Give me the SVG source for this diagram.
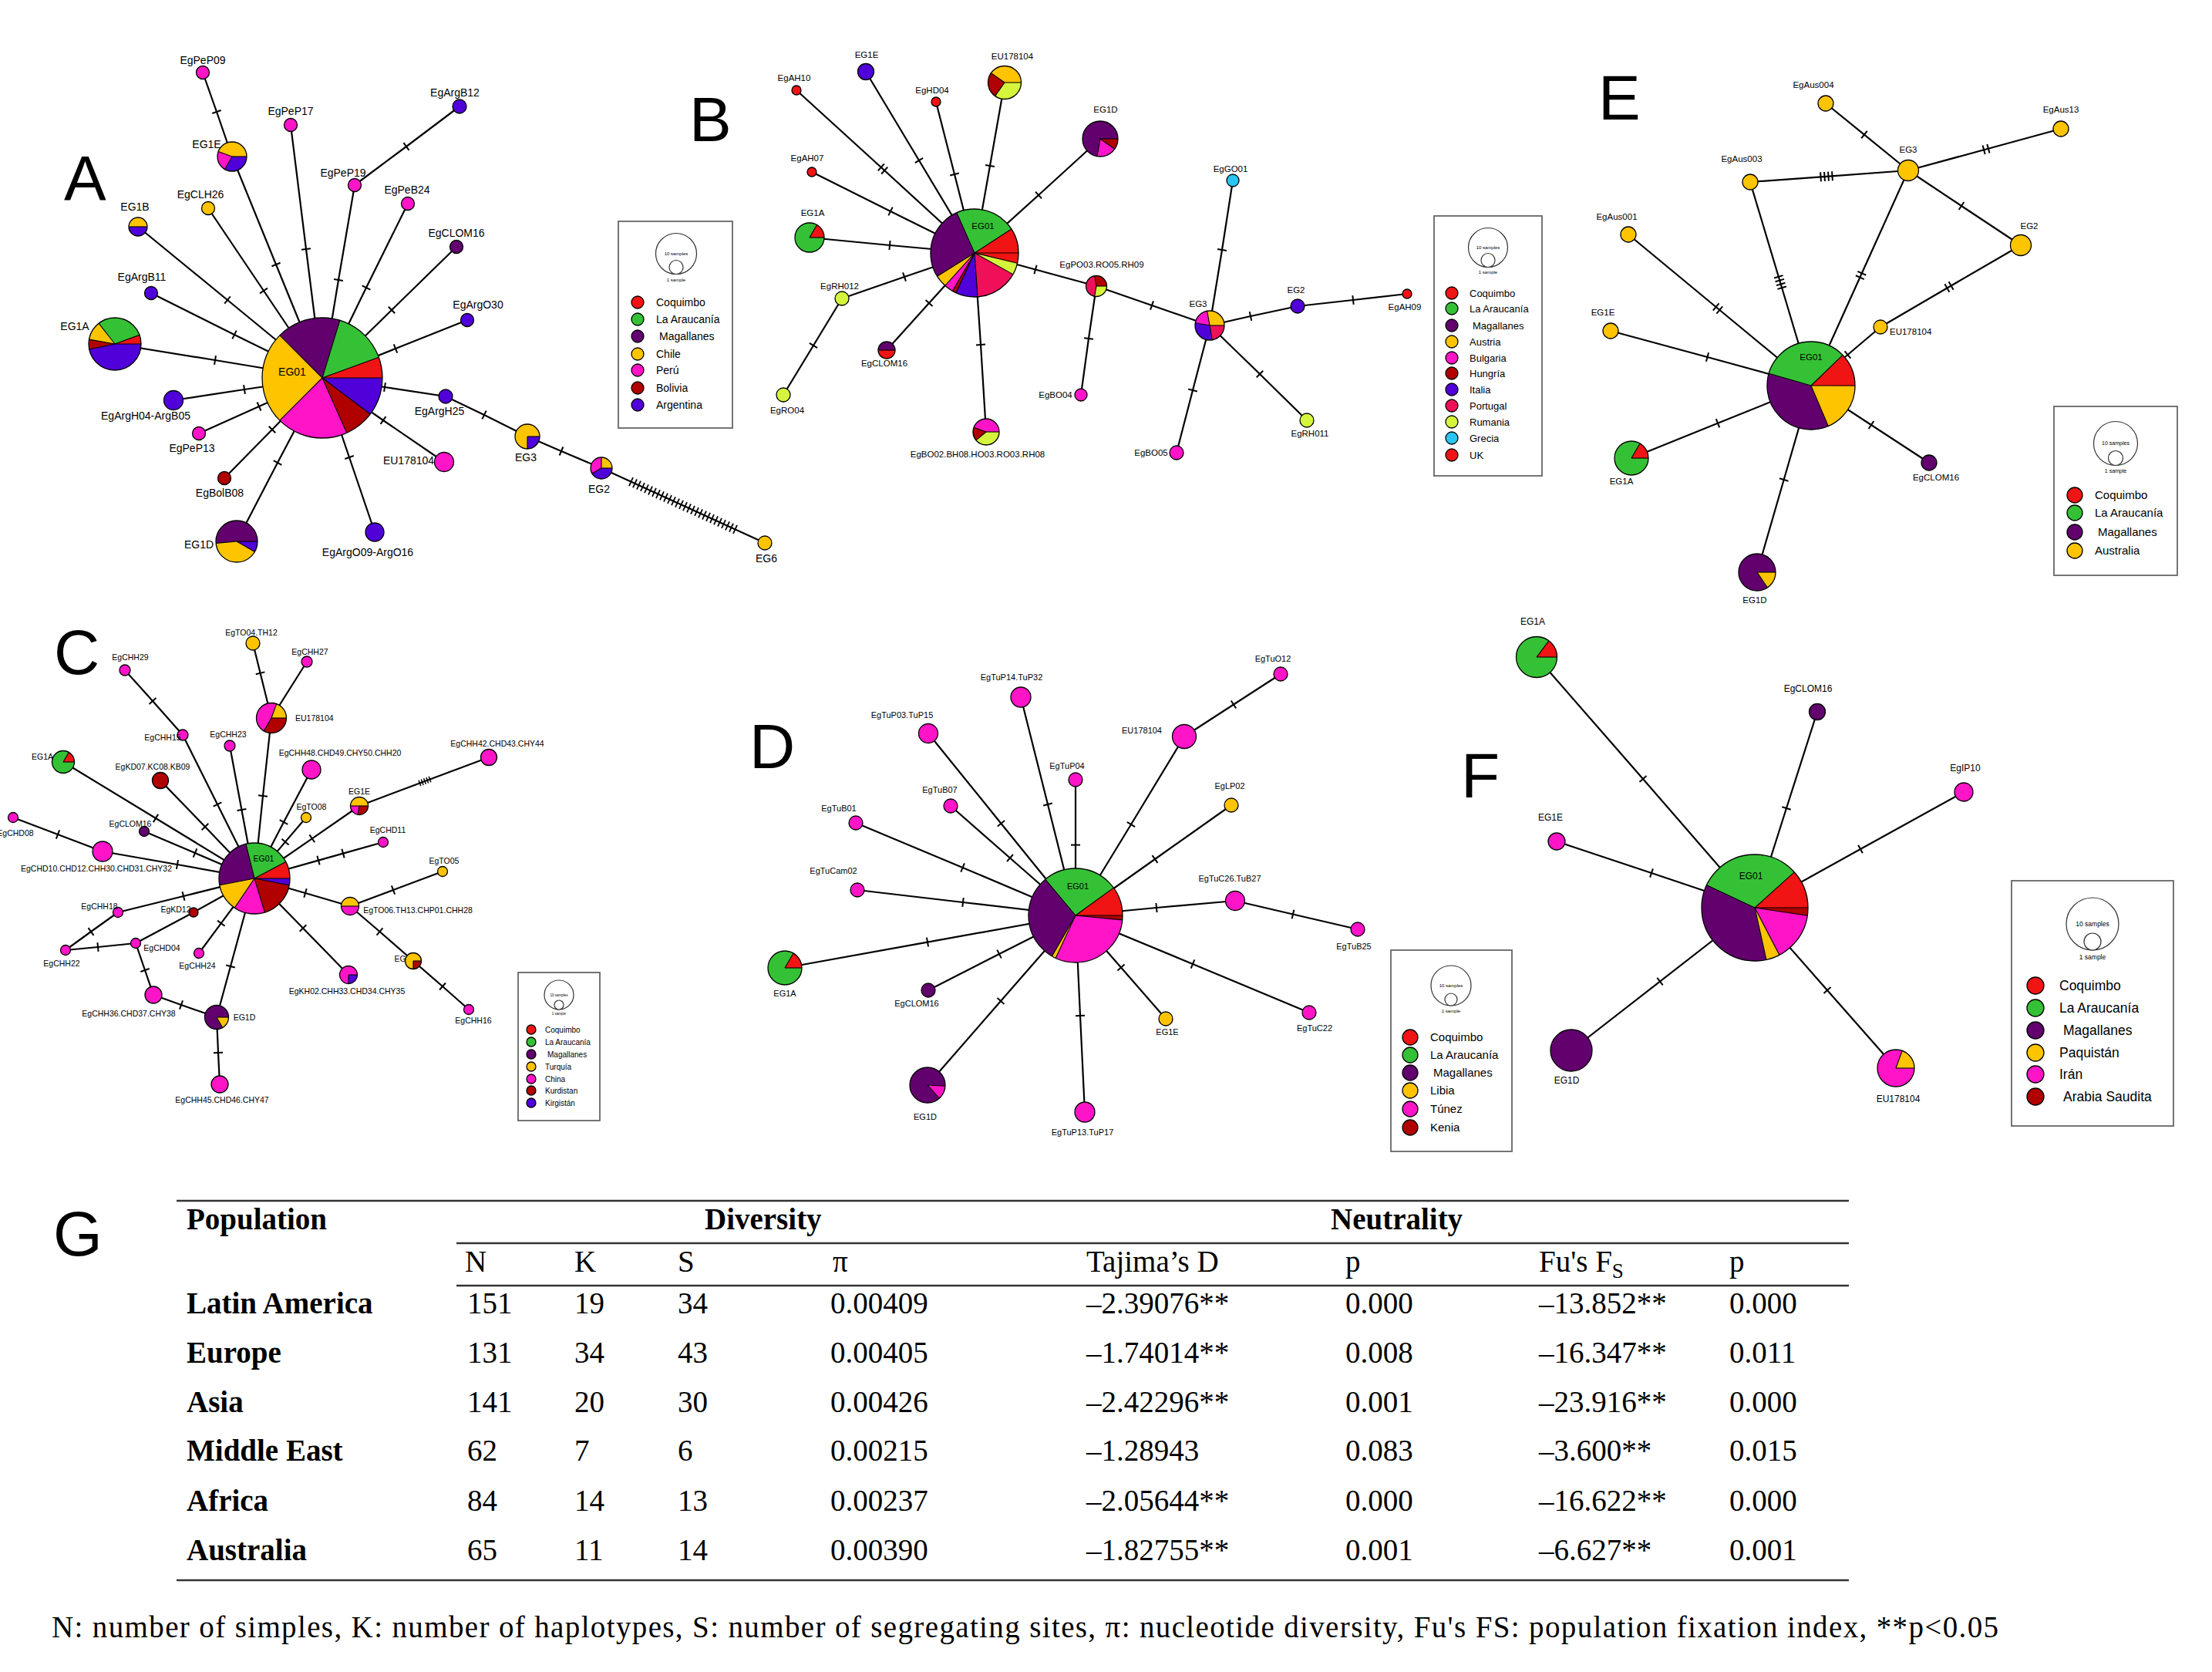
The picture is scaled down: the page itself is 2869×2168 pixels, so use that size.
<svg xmlns="http://www.w3.org/2000/svg" width="2869" height="2168" viewBox="0 0 2869 2168">
<defs>
<style>
.e{fill:none;stroke:#000;stroke-width:2.2}
.m1{marker-mid:url(#t1)}.m2{marker-mid:url(#t2)}.m4{marker-mid:url(#t4)}.m5{marker-mid:url(#t5)}.mA{marker-mid:url(#tA)}
.o{fill:none;stroke:#000;stroke-width:1.3}
.sp{stroke:#000;stroke-width:1.1;fill:none}
.s{fill:none}
.n{stroke:#000;stroke-width:1.3}
.R{stroke:#f01414}.G{stroke:#35c135}.M{stroke:#62006e}.Y{stroke:#ffc400}.P{stroke:#ff14c8}.D{stroke:#b00000}.B{stroke:#5000d8}.C{stroke:#f0105a}.L{stroke:#d4f53c}.K{stroke:#28c6f0}
.fR{fill:#f01414}.fG{fill:#35c135}.fM{fill:#62006e}.fY{fill:#ffc400}.fP{fill:#ff14c8}.fD{fill:#b00000}.fB{fill:#5000d8}.fC{fill:#f0105a}.fL{fill:#d4f53c}.fK{fill:#28c6f0}
text{font-family:"Liberation Sans",Arial,sans-serif;fill:#000}
.ta{font-size:14px;text-anchor:middle}
.tb{font-size:11.5px;text-anchor:middle}
.tc{font-size:10.5px;text-anchor:middle}
.td{font-size:11px;text-anchor:middle}
.te{font-size:11.5px;text-anchor:middle}
.tf{font-size:12px;text-anchor:middle}
.st{text-anchor:start}
.big{font-size:82px}
.lg{fill:#fff;stroke:#666;stroke-width:1.8}
.lc{fill:#fff;stroke:#333;stroke-width:1.2}
text.tab,.tab text{font-family:"Liberation Serif","Times New Roman",serif;font-size:39px}
text.bd,.bd text{font-weight:bold}
.hl{stroke:#333;stroke-width:2.6}
</style>
<marker id="t1" markerUnits="userSpaceOnUse" markerWidth="30" markerHeight="30" viewBox="-15 -15 30 30" orient="auto" overflow="visible"><path d="M0-6V6" stroke="#000" stroke-width="2"/></marker>
<marker id="t2" markerUnits="userSpaceOnUse" markerWidth="30" markerHeight="30" viewBox="-15 -15 30 30" orient="auto" overflow="visible"><path d="M-3-6V6M3-6V6" stroke="#000" stroke-width="2"/></marker>
<marker id="t4" markerUnits="userSpaceOnUse" markerWidth="30" markerHeight="30" viewBox="-15 -15 30 30" orient="auto" overflow="visible"><path d="M-7.5-6V6M-2.5-6V6M2.5-6V6M7.5-6V6" stroke="#000" stroke-width="2"/></marker>
<marker id="t5" markerUnits="userSpaceOnUse" markerWidth="30" markerHeight="30" viewBox="-15 -15 30 30" orient="auto" overflow="visible"><path d="M-7-4V4M-3.5-4V4M0-4V4M3.5-4V4M7-4V4" stroke="#000" stroke-width="1.5"/></marker>
<marker id="tA" markerUnits="userSpaceOnUse" markerWidth="160" markerHeight="20" viewBox="-80 -10 160 20" orient="auto" overflow="visible"><path d="M-74.25-6V6M-68.75-6V6M-63.25-6V6M-57.75-6V6M-52.25-6V6M-46.75-6V6M-41.25-6V6M-35.75-6V6M-30.25-6V6M-24.75-6V6M-19.25-6V6M-13.75-6V6M-8.25-6V6M-2.75-6V6M2.75-6V6M8.25-6V6M13.75-6V6M19.25-6V6M24.75-6V6M30.25-6V6M35.75-6V6M41.25-6V6M46.75-6V6M52.25-6V6M57.75-6V6M63.25-6V6M68.75-6V6M74.25-6V6" stroke="#000" stroke-width="1.8"/></marker>
</defs>
<rect width="2869" height="2168" fill="#fff"/>

<g id="connectors">
<!-- A -->
<path class="e m1" d="M418 490L358 343L301 203"/>
<path class="e m1" d="M301 203L281 145L263 94"/>
<path class="e m1" d="M418 490L397 323L377 162"/>
<path class="e m1" d="M418 490L439 363L460 240"/>
<path class="e m1" d="M460 240L527 190L596 138"/>
<path class="e m1" d="M418 490L475 373L529 264"/>
<path class="e m1" d="M418 490L342 377L270 270"/>
<path class="e m1" d="M418 490L295 389L179 294"/>
<path class="e m1" d="M418 490L508 402L592 320"/>
<path class="e m1" d="M418 490L304 434L196 380"/>
<path class="e m1" d="M418 490L513 452L606 415"/>
<path class="e m1" d="M418 490L279 467L149 446"/>
<path class="e m1" d="M418 490L317 505L225 519"/>
<path class="e m1" d="M418 490L336 527L258 562"/>
<path class="e m1" d="M418 490L353 557L291 620"/>
<path class="e m1" d="M418 490L360 600L307 702"/>
<path class="e m1" d="M418 490L453 593L486 690"/>
<path class="e m1" d="M418 490L497 545L576 599"/>
<path class="e m1" d="M418 490L499 502L578 514"/>
<path class="e m1" d="M578 514L628 538L684 566"/>
<path class="e m1" d="M684 566L728 585L780 607"/>
<path class="e mA" d="M780 607L886 655.5L992 704"/>
<!-- B -->
<path class="e m2" d="M1264 328L1145 219L1033 117"/>
<path class="e m1" d="M1264 328L1192 208L1123 93"/>
<path class="e m1" d="M1264 328L1238 226L1214 132"/>
<path class="e m1" d="M1264 328L1284 215L1303 107"/>
<path class="e m1" d="M1264 328L1347 253L1427 180"/>
<path class="e m1" d="M1264 328L1155 274L1053 223"/>
<path class="e m1" d="M1264 328L1154 318L1050 308"/>
<path class="e m1" d="M1264 328L1173 359L1092 387"/>
<path class="e m1" d="M1092 387L1055 448L1016 512"/>
<path class="e m1" d="M1264 328L1205 393L1150 454"/>
<path class="e m1" d="M1264 328L1272 447L1279 560"/>
<path class="e m1" d="M1264 328L1343 349.5L1422 371"/>
<path class="e m1" d="M1422 371L1412 439L1402 512"/>
<path class="e m1" d="M1422 371L1494 396L1569 422"/>
<path class="e m1" d="M1569 422L1585 324L1599 234"/>
<path class="e m1" d="M1569 422L1622 410L1683 397"/>
<path class="e m1" d="M1683 397L1755 389L1825 381"/>
<path class="e m1" d="M1569 422L1634 485L1695 545"/>
<path class="e m1" d="M1569 422L1547 506L1526 587"/>
<!-- C -->
<path class="e m1" d="M328 834L337.6 872.8L352 931"/>
<path class="e" d="M398 858L352 931"/>
<path class="e m1" d="M330 1139L341 1032L352 931"/>
<path class="e m1" d="M162 869L198 909L237 953"/>
<path class="e m1" d="M237 953L282 1043L330 1139"/>
<path class="e m1" d="M330 1139L313.4 1050L298 967"/>
<path class="e m1" d="M330 1139L202 1061L82 988"/>
<path class="e m1" d="M330 1139L266 1072L208 1012"/>
<path class="e m1" d="M330 1139L368 1066L404 998"/>
<path class="e m1" d="M330 1139L404.8 1087.3L466 1045"/>
<path class="e m1" d="M330 1139L370 1091.6L397 1060"/>
<path class="e m5" d="M466 1045L551 1013L634 982"/>
<path class="e m1" d="M330 1139L253 1106L187 1078"/>
<path class="e m1" d="M17 1060L75 1082L133 1104"/>
<path class="e m1" d="M330 1139L230 1121L133 1104"/>
<path class="e m1" d="M330 1139L413 1115.6L445 1106.6L497 1092"/>
<path class="e m1" d="M330 1139L396 1158L454 1175"/>
<path class="e m1" d="M454 1175L510 1154L574 1130"/>
<path class="e m1" d="M454 1175L492.5 1208L536 1246"/>
<path class="e m1" d="M536 1246L574 1279L608 1309"/>
<path class="e m1" d="M330 1139L238 1162L153 1183"/>
<path class="e" d="M330 1139L251 1183"/>
<path class="e" d="M251 1183L176 1223"/>
<path class="e m1" d="M153 1183L118 1208L85 1232"/>
<path class="e m1" d="M85 1232L127 1228L176 1223"/>
<path class="e m1" d="M176 1223L188 1258L199 1290"/>
<path class="e m1" d="M199 1290L235 1303L281 1319"/>
<path class="e m1" d="M330 1139L286.8 1197.2L258 1236"/>
<path class="e m1" d="M330 1139L299 1253L281 1319"/>
<path class="e m1" d="M281 1319L283 1365L285 1406"/>
<path class="e m1" d="M330 1139L393 1203.5L452 1264"/>
<!-- D -->
<path class="e m1" d="M1536 955L1600 913.5L1661 874"/>
<path class="e m1" d="M1395 1187L1467 1069L1536 955"/>
<path class="e m1" d="M1395 1187L1359 1043L1324 904"/>
<path class="e m1" d="M1395 1187L1298.4 1067.7L1204 951"/>
<path class="e m1" d="M1395 1187L1395 1095.6L1395 1011"/>
<path class="e m1" d="M1395 1187L1310 1112.5L1233 1045"/>
<path class="e m1" d="M1395 1187L1498 1114L1597 1044"/>
<path class="e m1" d="M1395 1187L1248.6 1125L1110 1067"/>
<path class="e m1" d="M1395 1187L1249 1170L1112 1154"/>
<path class="e m1" d="M1395 1187L1500 1177L1602 1168"/>
<path class="e m1" d="M1602 1168L1677 1185.5L1761 1205"/>
<path class="e m1" d="M1395 1187L1203 1221.6L1018 1255"/>
<path class="e m1" d="M1395 1187L1296 1237L1204 1284"/>
<path class="e m1" d="M1395 1187L1547 1250L1698 1313"/>
<path class="e m1" d="M1395 1187L1454 1254.5L1512 1321"/>
<path class="e m1" d="M1395 1187L1298 1298L1203 1407"/>
<path class="e m1" d="M1395 1187L1401 1317L1407 1442"/>
<!-- E -->
<path class="e m2" d="M2349 500L2228 400L2112 304"/>
<path class="e m4" d="M2349 500L2309 366L2270 236"/>
<path class="e m2" d="M2349 500L2413.6 357L2475 221"/>
<path class="e m1" d="M2349 500L2396.5 460L2439 424"/>
<path class="e m2" d="M2439 424L2528 372L2621 318"/>
<path class="e m4" d="M2475 221L2369 228.8L2270 236"/>
<path class="e m1" d="M2475 221L2418 174.6L2368 134"/>
<path class="e m2" d="M2475 221L2576 193.5L2673 167"/>
<path class="e m1" d="M2475 221L2544 267L2621 318"/>
<path class="e m1" d="M2349 500L2214.5 463L2089 429"/>
<path class="e m1" d="M2349 500L2228 548.8L2116 594"/>
<path class="e m1" d="M2349 500L2427 551L2502 600"/>
<path class="e m1" d="M2349 500L2313.7 622L2279 742"/>
<!-- F -->
<path class="e m1" d="M2276 1177L2131 1010L1993 852"/>
<path class="e m1" d="M2276 1177L2317 1048L2357 923"/>
<path class="e m1" d="M2276 1177L2413 1101L2547 1027"/>
<path class="e m1" d="M2276 1177L2142 1132L2019 1091"/>
<path class="e m1" d="M2276 1177L2153 1272.6L2038 1362"/>
<path class="e m1" d="M2276 1177L2370 1284L2459 1385"/>
</g>

<!-- Panel letters -->
<g id="panel-letters">
<text class="big" x="83" y="259">A</text>
<text class="big" x="894" y="183">B</text>
<text class="big" x="70" y="874">C</text>
<text class="big" x="972" y="996">D</text>
<text class="big" x="2073" y="155">E</text>
<text class="big" x="1895" y="1034">F</text>
<text class="big" x="69" y="1628">G</text>
</g>

<!-- ===== Panel A nodes ===== -->
<g id="A-EG01"><g transform="translate(418 490)" stroke-width="78">
<circle class="s M" r="39" pathLength="360" stroke-dasharray="62.5 360" transform="rotate(225)"/>
<circle class="s G" r="39" pathLength="360" stroke-dasharray="53.5 360" transform="rotate(287)"/>
<circle class="s R" r="39" pathLength="360" stroke-dasharray="20.5 360" transform="rotate(340)"/>
<circle class="s B" r="39" pathLength="360" stroke-dasharray="37.5 360" transform="rotate(0)"/>
<circle class="s D" r="39" pathLength="360" stroke-dasharray="29.5 360" transform="rotate(37)"/>
<circle class="s P" r="39" pathLength="360" stroke-dasharray="69.5 360" transform="rotate(66)"/>
<circle class="s Y" r="39" pathLength="360" stroke-dasharray="90.5 360" transform="rotate(135)"/>
<path class="sp" d="M0 0H78" transform="rotate(225)"/><path class="sp" d="M0 0H78" transform="rotate(287)"/><path class="sp" d="M0 0H78" transform="rotate(340)"/><path class="sp" d="M0 0H78"/><path class="sp" d="M0 0H78" transform="rotate(37)"/><path class="sp" d="M0 0H78" transform="rotate(66)"/><path class="sp" d="M0 0H78" transform="rotate(135)"/>
<circle class="o" r="78"/></g>
<text class="ta" x="379" y="487">EG01</text></g>
<g id="A-EgPeP09"><circle class="n fP" cx="263" cy="94" r="8.5"/><text class="ta" x="263" y="83">EgPeP09</text></g>
<g id="A-EG1E"><g transform="translate(301 203)" stroke-width="19">
<circle class="s Y" r="9.5" pathLength="360" stroke-dasharray="160.5 360" transform="rotate(200)"/>
<circle class="s B" r="9.5" pathLength="360" stroke-dasharray="120.5 360"/>
<circle class="s P" r="9.5" pathLength="360" stroke-dasharray="80.5 360" transform="rotate(120)"/>
<path class="sp" d="M0 0H19" transform="rotate(200)"/><path class="sp" d="M0 0H19"/><path class="sp" d="M0 0H19" transform="rotate(120)"/>
<circle class="o" r="19"/></g>
<text class="ta" x="268" y="192">EG1E</text></g>
<g id="A-EgPeP17"><circle class="n fP" cx="377" cy="162" r="8.5"/><text class="ta" x="377" y="149">EgPeP17</text></g>
<g id="A-EgArgB12"><circle class="n fB" cx="596" cy="138" r="9"/><text class="ta" x="590" y="125">EgArgB12</text></g>
<g id="A-EgPeP19"><circle class="n fP" cx="460" cy="240" r="8.5"/><text class="ta" x="445" y="229">EgPeP19</text></g>
<g id="A-EgPeB24"><circle class="n fP" cx="529" cy="264" r="8.5"/><text class="ta" x="528" y="251">EgPeB24</text></g>
<g id="A-EgCLH26"><circle class="n fY" cx="270" cy="270" r="8.5"/><text class="ta" x="260" y="257">EgCLH26</text></g>
<g id="A-EG1B"><g transform="translate(179 294)" stroke-width="12">
<circle class="s Y" r="6" pathLength="360" stroke-dasharray="180.5 360" transform="rotate(180)"/>
<circle class="s B" r="6" pathLength="360" stroke-dasharray="180.5 360"/>
<path class="sp" d="M-12 0H12"/>
<circle class="o" r="12"/></g>
<text class="ta" x="175" y="273">EG1B</text></g>
<g id="A-EgCLOM16"><circle class="n fM" cx="592" cy="320" r="8.5"/><text class="ta" x="592" y="307">EgCLOM16</text></g>
<g id="A-EgArgB11"><circle class="n fB" cx="196" cy="380" r="8.5"/><text class="ta" x="184" y="364">EgArgB11</text></g>
<g id="A-EgArgO30"><circle class="n fB" cx="606" cy="415" r="8.5"/><text class="ta" x="620" y="400">EgArgO30</text></g>
<g id="A-EG1A"><g transform="translate(149 446)" stroke-width="34">
<circle class="s Y" r="17" pathLength="360" stroke-dasharray="42.5 360" transform="rotate(190)"/>
<circle class="s G" r="17" pathLength="360" stroke-dasharray="108.5 360" transform="rotate(232)"/>
<circle class="s R" r="17" pathLength="360" stroke-dasharray="20.5 360" transform="rotate(340)"/>
<circle class="s B" r="17" pathLength="360" stroke-dasharray="168.5 360"/>
<circle class="s D" r="17" pathLength="360" stroke-dasharray="22.5 360" transform="rotate(168)"/>
<path class="sp" d="M0 0H34" transform="rotate(190)"/><path class="sp" d="M0 0H34" transform="rotate(232)"/><path class="sp" d="M0 0H34" transform="rotate(340)"/><path class="sp" d="M0 0H34"/><path class="sp" d="M0 0H34" transform="rotate(168)"/>
<circle class="o" r="34"/></g>
<text class="ta" x="97" y="428">EG1A</text></g>
<g id="A-EgArgH04-ArgB05"><circle class="n fB" cx="225" cy="519" r="12.5"/><text class="ta" x="189" y="544">EgArgH04-ArgB05</text></g>
<g id="A-EgPeP13"><circle class="n fP" cx="258" cy="562" r="8.5"/><text class="ta" x="249" y="586">EgPeP13</text></g>
<g id="A-EgBolB08"><circle class="n fD" cx="291" cy="620" r="8.5"/><text class="ta" x="285" y="644">EgBolB08</text></g>
<g id="A-EG1D"><g transform="translate(307 702)" stroke-width="27">
<circle class="s B" r="13.5" pathLength="360" stroke-dasharray="30.5 360"/>
<circle class="s Y" r="13.5" pathLength="360" stroke-dasharray="145.5 360" transform="rotate(30)"/>
<circle class="s M" r="13.5" pathLength="360" stroke-dasharray="185.5 360" transform="rotate(175)"/>
<path class="sp" d="M0 0H27"/><path class="sp" d="M0 0H27" transform="rotate(30)"/><path class="sp" d="M0 0H27" transform="rotate(175)"/>
<circle class="o" r="27"/></g>
<text class="ta" x="258" y="711">EG1D</text></g>
<g id="A-EgArgO09-ArgO16"><circle class="n fB" cx="486" cy="690" r="12"/><text class="ta" x="477" y="721">EgArgO09-ArgO16</text></g>
<g id="A-EU178104"><circle class="n fP" cx="576" cy="599" r="12.5"/><text class="ta" x="530" y="602">EU178104</text></g>
<g id="A-EgArgH25"><circle class="n fB" cx="578" cy="514" r="9"/><text class="ta" x="570" y="538">EgArgH25</text></g>
<g id="A-EG3"><g transform="translate(684 566)" stroke-width="16">
<circle class="s Y" r="8" pathLength="360" stroke-dasharray="270.5 360" transform="rotate(90)"/>
<circle class="s B" r="8" pathLength="360" stroke-dasharray="90.5 360"/>
<path class="sp" d="M0 0H16"/><path class="sp" d="M0 0V16"/>
<circle class="o" r="16"/></g>
<text class="ta" x="682" y="598">EG3</text></g>
<g id="A-EG2"><g transform="translate(780 607)" stroke-width="14">
<circle class="s Y" r="7" pathLength="360" stroke-dasharray="90.5 360" transform="rotate(270)"/>
<circle class="s B" r="7" pathLength="360" stroke-dasharray="150.5 360"/>
<circle class="s P" r="7" pathLength="360" stroke-dasharray="120.5 360" transform="rotate(150)"/>
<path class="sp" d="M0 0H14" transform="rotate(270)"/><path class="sp" d="M0 0H14"/><path class="sp" d="M0 0H14" transform="rotate(150)"/>
<circle class="o" r="14"/></g>
<text class="ta" x="777" y="639">EG2</text></g>
<g id="A-EG6"><circle class="n fY" cx="992" cy="704" r="9"/><text class="ta" x="994" y="729">EG6</text></g>

<g id="A-legend">
<rect class="lg" x="802" y="287" width="148" height="268"/>
<circle class="lc" cx="877" cy="329" r="26.5"/><circle class="lc" cx="877" cy="346.5" r="9"/>
<text x="877" y="331" font-size="6" text-anchor="middle">10 samples</text>
<text x="877" y="365" font-size="6" text-anchor="middle">1 sample</text>
<circle class="n fR" cx="827" cy="392" r="8"/><text x="851" y="397" font-size="14">Coquimbo</text>
<circle class="n fG" cx="827" cy="414" r="8"/><text x="851" y="419" font-size="14">La Araucanía</text>
<circle class="n fM" cx="827" cy="436" r="8"/><text x="855" y="441" font-size="14">Magallanes</text>
<circle class="n fY" cx="827" cy="459" r="8"/><text x="851" y="464" font-size="14">Chile</text>
<circle class="n fP" cx="827" cy="480" r="8"/><text x="851" y="485" font-size="14">Perú</text>
<circle class="n fD" cx="827" cy="503" r="8"/><text x="851" y="508" font-size="14">Bolivia</text>
<circle class="n fB" cx="827" cy="525" r="8"/><text x="851" y="530" font-size="14">Argentina</text>
</g>

<!-- ===== Panel B nodes ===== -->
<g id="B-EG01"><g transform="translate(1264 328)" stroke-width="57">
<circle class="s G" r="28.5" pathLength="360" stroke-dasharray="81.5 360" transform="rotate(246)"/>
<circle class="s R" r="28.5" pathLength="360" stroke-dasharray="47 360" transform="rotate(327)"/>
<circle class="s L" r="28.5" pathLength="360" stroke-dasharray="16 360" transform="rotate(13.5)"/>
<circle class="s C" r="28.5" pathLength="360" stroke-dasharray="57.5 360" transform="rotate(29)"/>
<circle class="s B" r="28.5" pathLength="360" stroke-dasharray="29.5 360" transform="rotate(86)"/>
<circle class="s D" r="28.5" pathLength="360" stroke-dasharray="5.5 360" transform="rotate(115)"/>
<circle class="s P" r="28.5" pathLength="360" stroke-dasharray="12.5 360" transform="rotate(120)"/>
<circle class="s Y" r="28.5" pathLength="360" stroke-dasharray="16.5 360" transform="rotate(132)"/>
<circle class="s M" r="28.5" pathLength="360" stroke-dasharray="98.5 360" transform="rotate(148)"/>
<path class="sp" d="M0 0H57" transform="rotate(246)"/><path class="sp" d="M0 0H57" transform="rotate(327)"/><path class="sp" d="M0 0H57"/><path class="sp" d="M0 0H57" transform="rotate(13.5)"/><path class="sp" d="M0 0H57" transform="rotate(29)"/><path class="sp" d="M0 0H57" transform="rotate(86)"/><path class="sp" d="M0 0H57" transform="rotate(115)"/><path class="sp" d="M0 0H57" transform="rotate(120)"/><path class="sp" d="M0 0H57" transform="rotate(132)"/><path class="sp" d="M0 0H57" transform="rotate(148)"/>
<circle class="o" r="57"/></g>
<text class="tb" x="1275" y="297">EG01</text></g>
<g id="B-EgAH10"><circle class="n fR" cx="1033" cy="117" r="6"/><text class="tb" x="1030" y="105">EgAH10</text></g>
<g id="B-EG1E"><circle class="n fB" cx="1123" cy="93" r="10.5"/><text class="tb" x="1124" y="75">EG1E</text></g>
<g id="B-EgHD04"><circle class="n fR" cx="1214" cy="132" r="6"/><text class="tb" x="1209" y="121">EgHD04</text></g>
<g id="B-EU178104"><g transform="translate(1303 107)" stroke-width="21.5">
<circle class="s Y" r="10.75" pathLength="360" stroke-dasharray="145.5 360" transform="rotate(215)"/>
<circle class="s L" r="10.75" pathLength="360" stroke-dasharray="125.5 360"/>
<circle class="s D" r="10.75" pathLength="360" stroke-dasharray="90.5 360" transform="rotate(125)"/>
<path class="sp" d="M0 0H21.5" transform="rotate(215)"/><path class="sp" d="M0 0H21.5"/><path class="sp" d="M0 0H21.5" transform="rotate(125)"/>
<circle class="o" r="21.5"/></g>
<text class="tb" x="1313" y="77">EU178104</text></g>
<g id="B-EG1D"><g transform="translate(1427 180)" stroke-width="23">
<circle class="s M" r="11.5" pathLength="360" stroke-dasharray="260.5 360" transform="rotate(100)"/>
<circle class="s D" r="11.5" pathLength="360" stroke-dasharray="35.5 360"/>
<circle class="s P" r="11.5" pathLength="360" stroke-dasharray="65.5 360" transform="rotate(35)"/>
<path class="sp" d="M0 0H23" transform="rotate(100)"/><path class="sp" d="M0 0H23"/><path class="sp" d="M0 0H23" transform="rotate(35)"/>
<circle class="o" r="23"/></g>
<text class="tb" x="1434" y="146">EG1D</text></g>
<g id="B-EgAH07"><circle class="n fR" cx="1053" cy="223" r="6"/><text class="tb" x="1047" y="209">EgAH07</text></g>
<g id="B-EG1A"><g transform="translate(1050 308)" stroke-width="19">
<circle class="s G" r="9.5" pathLength="360" stroke-dasharray="300.5 360"/>
<circle class="s R" r="9.5" pathLength="360" stroke-dasharray="60.5 360" transform="rotate(300)"/>
<path class="sp" d="M0 0H19"/><path class="sp" d="M0 0H19" transform="rotate(300)"/>
<circle class="o" r="19"/></g>
<text class="tb" x="1054" y="280">EG1A</text></g>
<g id="B-EgRH012"><circle class="n fL" cx="1092" cy="387" r="9"/><text class="tb" x="1089" y="375">EgRH012</text></g>
<g id="B-EgRO04"><circle class="n fL" cx="1016" cy="512" r="9"/><text class="tb" x="1021" y="536">EgRO04</text></g>
<g id="B-EgCLOM16"><g transform="translate(1150 454)" stroke-width="11">
<circle class="s M" r="5.5" pathLength="360" stroke-dasharray="180.5 360" transform="rotate(180)"/>
<circle class="s R" r="5.5" pathLength="360" stroke-dasharray="180.5 360"/>
<path class="sp" d="M-11 0H11"/>
<circle class="o" r="11"/></g>
<text class="tb" x="1147" y="475">EgCLOM16</text></g>
<g id="B-EgBO02.BH08.HO03.RO03.RH08"><g transform="translate(1279 560)" stroke-width="17">
<circle class="s P" r="8.5" pathLength="360" stroke-dasharray="160.5 360" transform="rotate(200)"/>
<circle class="s L" r="8.5" pathLength="360" stroke-dasharray="140.5 360"/>
<circle class="s D" r="8.5" pathLength="360" stroke-dasharray="60.5 360" transform="rotate(140)"/>
<path class="sp" d="M0 0H17" transform="rotate(200)"/><path class="sp" d="M0 0H17"/><path class="sp" d="M0 0H17" transform="rotate(140)"/>
<circle class="o" r="17"/></g>
<text class="tb" x="1268" y="593">EgBO02.BH08.HO03.RO03.RH08</text></g>
<g id="B-EgPO03.RO05.RH09"><g transform="translate(1422 371)" stroke-width="13.5">
<circle class="s C" r="6.75" pathLength="360" stroke-dasharray="160.5 360" transform="rotate(100)"/>
<circle class="s D" r="6.75" pathLength="360" stroke-dasharray="100.5 360" transform="rotate(260)"/>
<circle class="s L" r="6.75" pathLength="360" stroke-dasharray="100.5 360"/>
<path class="sp" d="M0 0H13.5" transform="rotate(100)"/><path class="sp" d="M0 0H13.5" transform="rotate(260)"/><path class="sp" d="M0 0H13.5"/>
<circle class="o" r="13.5"/></g>
<text class="tb" x="1429" y="347">EgPO03.RO05.RH09</text></g>
<g id="B-EgBO04"><circle class="n fP" cx="1402" cy="512" r="8"/><text class="tb" x="1369" y="516">EgBO04</text></g>
<g id="B-EG3"><g transform="translate(1569 422)" stroke-width="19">
<circle class="s P" r="9.5" pathLength="360" stroke-dasharray="70.5 360" transform="rotate(190)"/>
<circle class="s Y" r="9.5" pathLength="360" stroke-dasharray="100.5 360" transform="rotate(260)"/>
<circle class="s C" r="9.5" pathLength="360" stroke-dasharray="80.5 360"/>
<circle class="s B" r="9.5" pathLength="360" stroke-dasharray="110.5 360" transform="rotate(80)"/>
<path class="sp" d="M0 0H19" transform="rotate(190)"/><path class="sp" d="M0 0H19" transform="rotate(260)"/><path class="sp" d="M0 0H19"/><path class="sp" d="M0 0H19" transform="rotate(80)"/>
<circle class="o" r="19"/></g>
<text class="tb" x="1554" y="398">EG3</text></g>
<g id="B-EgGO01"><circle class="n fK" cx="1599" cy="234" r="8"/><text class="tb" x="1596" y="223">EgGO01</text></g>
<g id="B-EG2"><circle class="n fB" cx="1683" cy="397" r="9"/><text class="tb" x="1681" y="380">EG2</text></g>
<g id="B-EgAH09"><circle class="n fR" cx="1825" cy="381" r="6"/><text class="tb" x="1822" y="402">EgAH09</text></g>
<g id="B-EgRH011"><circle class="n fL" cx="1695" cy="545" r="9"/><text class="tb" x="1699" y="566">EgRH011</text></g>
<g id="B-EgBO05"><circle class="n fP" cx="1526" cy="587" r="9"/><text class="tb" x="1493" y="591">EgBO05</text></g>

<g id="B-legend">
<rect class="lg" x="1860" y="280" width="140" height="337"/>
<circle class="lc" cx="1930" cy="321" r="25.5"/><circle class="lc" cx="1930" cy="337.5" r="9"/>
<text x="1930" y="323" font-size="6" text-anchor="middle">10 samples</text>
<text x="1930" y="355" font-size="6" text-anchor="middle">1 sample</text>
<circle class="n fR" cx="1883" cy="380" r="8"/><text x="1906" y="384.5" font-size="13">Coquimbo</text>
<circle class="n fG" cx="1883" cy="400" r="8"/><text x="1906" y="404.5" font-size="13">La Araucanía</text>
<circle class="n fM" cx="1883" cy="422" r="8"/><text x="1910" y="426.5" font-size="13">Magallanes</text>
<circle class="n fY" cx="1883" cy="443" r="8"/><text x="1906" y="447.5" font-size="13">Austria</text>
<circle class="n fP" cx="1883" cy="464" r="8"/><text x="1906" y="468.5" font-size="13">Bulgaria</text>
<circle class="n fD" cx="1883" cy="484" r="8"/><text x="1906" y="488.5" font-size="13">Hungría</text>
<circle class="n fB" cx="1883" cy="505" r="8"/><text x="1906" y="509.5" font-size="13">Italia</text>
<circle class="n fC" cx="1883" cy="526" r="8"/><text x="1906" y="530.5" font-size="13">Portugal</text>
<circle class="n fL" cx="1883" cy="547" r="8"/><text x="1906" y="551.5" font-size="13">Rumania</text>
<circle class="n fK" cx="1883" cy="568" r="8"/><text x="1906" y="572.5" font-size="13">Grecia</text>
<circle class="n fR" cx="1883" cy="590" r="8"/><text x="1906" y="594.5" font-size="13">UK</text>
</g>

<!-- ===== Panel C nodes ===== -->
<g id="C-EG01"><g transform="translate(330 1139)" stroke-width="46">
<circle class="s G" r="23" pathLength="360" stroke-dasharray="76.5 360" transform="rotate(256)"/>
<circle class="s R" r="23" pathLength="360" stroke-dasharray="28.5 360" transform="rotate(332)"/>
<circle class="s B" r="23" pathLength="360" stroke-dasharray="11.5 360"/>
<circle class="s D" r="23" pathLength="360" stroke-dasharray="62.5 360" transform="rotate(11)"/>
<circle class="s P" r="23" pathLength="360" stroke-dasharray="51.5 360" transform="rotate(73)"/>
<circle class="s Y" r="23" pathLength="360" stroke-dasharray="45.5 360" transform="rotate(124)"/>
<circle class="s M" r="23" pathLength="360" stroke-dasharray="87.5 360" transform="rotate(169)"/>
<path class="sp" d="M0 0H46" transform="rotate(256)"/><path class="sp" d="M0 0H46" transform="rotate(332)"/><path class="sp" d="M0 0H46"/><path class="sp" d="M0 0H46" transform="rotate(11)"/><path class="sp" d="M0 0H46" transform="rotate(73)"/><path class="sp" d="M0 0H46" transform="rotate(124)"/><path class="sp" d="M0 0H46" transform="rotate(169)"/>
<circle class="o" r="46"/></g>
<text class="tc" x="342" y="1117">EG01</text></g>
<g id="C-EgTO04.TH12"><circle class="n fY" cx="328" cy="834" r="9"/><text class="tc" x="326" y="824">EgTO04.TH12</text></g>
<g id="C-EgCHH27"><circle class="n fP" cx="398" cy="858" r="7"/><text class="tc" x="402" y="849">EgCHH27</text></g>
<g id="C-EgCHH29"><circle class="n fP" cx="162" cy="869" r="7"/><text class="tc" x="169" y="856">EgCHH29</text></g>
<g id="C-EU178104"><g transform="translate(352 931)" stroke-width="19.5">
<circle class="s P" r="9.75" pathLength="360" stroke-dasharray="170.5 360" transform="rotate(120)"/>
<circle class="s Y" r="9.75" pathLength="360" stroke-dasharray="70.5 360" transform="rotate(290)"/>
<circle class="s D" r="9.75" pathLength="360" stroke-dasharray="120.5 360"/>
<path class="sp" d="M0 0H19.5" transform="rotate(120)"/><path class="sp" d="M0 0H19.5" transform="rotate(290)"/><path class="sp" d="M0 0H19.5"/>
<circle class="o" r="19.5"/></g>
<text class="tc st" x="383" y="935">EU178104</text></g>
<g id="C-EgCHH15"><circle class="n fP" cx="237" cy="953" r="7"/><text class="tc" x="211" y="960">EgCHH15</text></g>
<g id="C-EgCHH23"><circle class="n fP" cx="298" cy="967" r="7"/><text class="tc" x="296" y="956">EgCHH23</text></g>
<g id="C-EG1A"><g transform="translate(82 988)" stroke-width="14.5">
<circle class="s G" r="7.25" pathLength="360" stroke-dasharray="300.5 360"/>
<circle class="s R" r="7.25" pathLength="360" stroke-dasharray="60.5 360" transform="rotate(300)"/>
<path class="sp" d="M0 0H14.5"/><path class="sp" d="M0 0H14.5" transform="rotate(300)"/>
<circle class="o" r="14.5"/></g>
<text class="tc" x="55" y="985">EG1A</text></g>
<g id="C-EgKD07.KC08.KB09"><circle class="n fD" cx="208" cy="1012" r="10.5"/><text class="tc" x="198" y="998">EgKD07.KC08.KB09</text></g>
<g id="C-EgCHH48.CHD49.CHY50.CHH20"><circle class="n fP" cx="404" cy="998" r="12"/><text class="tc" x="441" y="980">EgCHH48.CHD49.CHY50.CHH20</text></g>
<g id="C-EgCHH42.CHD43.CHY44"><circle class="n fP" cx="634" cy="982" r="10.5"/><text class="tc" x="645" y="968">EgCHH42.CHD43.CHY44</text></g>
<g id="C-EG1E"><g transform="translate(466 1045)" stroke-width="11.5">
<circle class="s Y" r="5.75" pathLength="360" stroke-dasharray="180.5 360" transform="rotate(180)"/>
<circle class="s D" r="5.75" pathLength="360" stroke-dasharray="100.5 360"/>
<circle class="s P" r="5.75" pathLength="360" stroke-dasharray="80.5 360" transform="rotate(100)"/>
<path class="sp" d="M-11.5 0H11.5"/><path class="sp" d="M0 0H11.5" transform="rotate(100)"/>
<circle class="o" r="11.5"/></g>
<text class="tc" x="466" y="1030">EG1E</text></g>
<g id="C-EgTO08"><circle class="n fY" cx="397" cy="1060" r="6.5"/><text class="tc" x="404" y="1050">EgTO08</text></g>
<g id="C-EgCHD08"><circle class="n fP" cx="17" cy="1060" r="6.5"/><text class="tc" x="20" y="1084">EgCHD08</text></g>
<g id="C-EgCLOM16"><circle class="n fM" cx="187" cy="1078" r="6.5"/><text class="tc" x="169" y="1072">EgCLOM16</text></g>
<g id="C-EgCHD11"><circle class="n fP" cx="497" cy="1092" r="6.5"/><text class="tc" x="503" y="1080">EgCHD11</text></g>
<g id="C-EgCHD10.CHD12.CHH30.CHD31.CHY32"><circle class="n fP" cx="133" cy="1104" r="13"/><text class="tc" x="125" y="1130">EgCHD10.CHD12.CHH30.CHD31.CHY32</text></g>
<g id="C-EgTO05"><circle class="n fY" cx="574" cy="1130" r="6.5"/><text class="tc" x="576" y="1120">EgTO05</text></g>
<g id="C-EgTO06.TH13.CHP01.CHH28"><g transform="translate(454 1175)" stroke-width="11.5">
<circle class="s Y" r="5.75" pathLength="360" stroke-dasharray="180.5 360" transform="rotate(180)"/>
<circle class="s P" r="5.75" pathLength="360" stroke-dasharray="180.5 360"/>
<path class="sp" d="M-11.5 0H11.5"/>
<circle class="o" r="11.5"/></g>
<text class="tc" x="542" y="1184">EgTO06.TH13.CHP01.CHH28</text></g>
<g id="C-EgCHH18"><circle class="n fP" cx="153" cy="1183" r="6.5"/><text class="tc" x="129" y="1179">EgCHH18</text></g>
<g id="C-EgKD12"><circle class="n fD" cx="251" cy="1183" r="6"/><text class="tc" x="228" y="1183">EgKD12</text></g>
<g id="C-EgCHD04"><circle class="n fP" cx="176" cy="1223" r="6.5"/><text class="tc" x="210" y="1233">EgCHD04</text></g>
<g id="C-EgCHH22"><circle class="n fP" cx="85" cy="1232" r="6.5"/><text class="tc" x="80" y="1253">EgCHH22</text></g>
<g id="C-EgCHH24"><circle class="n fP" cx="258" cy="1236" r="6.5"/><text class="tc" x="256" y="1256">EgCHH24</text></g>
<g id="C-EG2"><text class="tc" x="522" y="1247">EG2</text><g transform="translate(536 1246)" stroke-width="10.5">
<circle class="s Y" r="5.25" pathLength="360" stroke-dasharray="270.5 360" transform="rotate(90)"/>
<circle class="s D" r="5.25" pathLength="360" stroke-dasharray="90.5 360"/>
<path class="sp" d="M0 0H10.5"/><path class="sp" d="M0 0V10.5"/>
<circle class="o" r="10.5"/></g></g>
<g id="C-EgKH02.CHH33.CHD34.CHY35"><g transform="translate(452 1264)" stroke-width="11.5">
<circle class="s P" r="5.75" pathLength="360" stroke-dasharray="270.5 360" transform="rotate(90)"/>
<circle class="s B" r="5.75" pathLength="360" stroke-dasharray="90.5 360"/>
<path class="sp" d="M0 0H11.5"/><path class="sp" d="M0 0V11.5"/>
<circle class="o" r="11.5"/></g>
<text class="tc" x="450" y="1289">EgKH02.CHH33.CHD34.CHY35</text></g>
<g id="C-EgCHH36.CHD37.CHY38"><circle class="n fP" cx="199" cy="1290" r="11"/><text class="tc" x="167" y="1318">EgCHH36.CHD37.CHY38</text></g>
<g id="C-EG1D"><g transform="translate(281 1319)" stroke-width="15.5">
<circle class="s M" r="7.75" pathLength="360" stroke-dasharray="300.5 360" transform="rotate(60)"/>
<circle class="s Y" r="7.75" pathLength="360" stroke-dasharray="60.5 360"/>
<path class="sp" d="M0 0H15.5"/><path class="sp" d="M0 0H15.5" transform="rotate(60)"/>
<circle class="o" r="15.5"/></g>
<text class="tc" x="317" y="1323">EG1D</text></g>
<g id="C-EgCHH16"><circle class="n fP" cx="608" cy="1309" r="6.5"/><text class="tc" x="614" y="1327">EgCHH16</text></g>
<g id="C-EgCHH45.CHD46.CHY47"><circle class="n fP" cx="285" cy="1406" r="11"/><text class="tc" x="288" y="1430">EgCHH45.CHD46.CHY47</text></g>

<g id="C-legend">
<rect class="lg" x="672" y="1261" width="106" height="192"/>
<circle class="lc" cx="725" cy="1290" r="19"/><circle class="lc" cx="725" cy="1303" r="6"/>
<text x="725" y="1292" font-size="4.5" text-anchor="middle">10 samples</text>
<text x="725" y="1316" font-size="4.5" text-anchor="middle">1 sample</text>
<circle class="n fR" cx="689" cy="1335" r="6"/><text x="707" y="1338.5" font-size="10">Coquimbo</text>
<circle class="n fG" cx="689" cy="1351" r="6"/><text x="707" y="1354.5" font-size="10">La Araucanía</text>
<circle class="n fM" cx="689" cy="1367" r="6"/><text x="710" y="1370.5" font-size="10">Magallanes</text>
<circle class="n fY" cx="689" cy="1383" r="6"/><text x="707" y="1386.5" font-size="10">Turquía</text>
<circle class="n fP" cx="689" cy="1399" r="6"/><text x="707" y="1402.5" font-size="10">China</text>
<circle class="n fD" cx="689" cy="1414" r="6"/><text x="707" y="1417.5" font-size="10">Kurdistan</text>
<circle class="n fB" cx="689" cy="1430" r="6"/><text x="707" y="1433.5" font-size="10">Kirgistán</text>
</g>

<!-- ===== Panel D nodes ===== -->
<g id="D-EG01"><g transform="translate(1395 1187)" stroke-width="61">
<circle class="s G" r="30.5" pathLength="360" stroke-dasharray="94.5 360" transform="rotate(230)"/>
<circle class="s R" r="30.5" pathLength="360" stroke-dasharray="36.5 360" transform="rotate(324)"/>
<circle class="s D" r="30.5" pathLength="360" stroke-dasharray="6 360"/>
<circle class="s P" r="30.5" pathLength="360" stroke-dasharray="110 360" transform="rotate(5.5)"/>
<circle class="s Y" r="30.5" pathLength="360" stroke-dasharray="5.5 360" transform="rotate(115)"/>
<circle class="s M" r="30.5" pathLength="360" stroke-dasharray="110.5 360" transform="rotate(120)"/>
<path class="sp" d="M0 0H61" transform="rotate(230)"/><path class="sp" d="M0 0H61" transform="rotate(324)"/><path class="sp" d="M0 0H61"/><path class="sp" d="M0 0H61" transform="rotate(5.5)"/><path class="sp" d="M0 0H61" transform="rotate(115)"/><path class="sp" d="M0 0H61" transform="rotate(120)"/>
<circle class="o" r="61"/></g>
<text class="td" x="1398" y="1153">EG01</text></g>
<g id="D-EgTuO12"><circle class="n fP" cx="1661" cy="874" r="9"/><text class="td" x="1651" y="858">EgTuO12</text></g>
<g id="D-EgTuP14.TuP32"><circle class="n fP" cx="1324" cy="904" r="13"/><text class="td" x="1312" y="882">EgTuP14.TuP32</text></g>
<g id="D-EgTuP03.TuP15"><circle class="n fP" cx="1204" cy="951" r="12.5"/><text class="td" x="1170" y="931">EgTuP03.TuP15</text></g>
<g id="D-EU178104"><circle class="n fP" cx="1536" cy="955" r="15.5"/><text class="td" x="1481" y="951">EU178104</text></g>
<g id="D-EgTuP04"><circle class="n fP" cx="1395" cy="1011" r="9"/><text class="td" x="1384" y="997">EgTuP04</text></g>
<g id="D-EgTuB07"><circle class="n fP" cx="1233" cy="1045" r="9"/><text class="td" x="1219" y="1028">EgTuB07</text></g>
<g id="D-EgLP02"><circle class="n fY" cx="1597" cy="1044" r="9"/><text class="td" x="1595" y="1023">EgLP02</text></g>
<g id="D-EgTuB01"><circle class="n fP" cx="1110" cy="1067" r="9"/><text class="td" x="1088" y="1052">EgTuB01</text></g>
<g id="D-EgTuCam02"><circle class="n fP" cx="1112" cy="1154" r="9"/><text class="td" x="1081" y="1133">EgTuCam02</text></g>
<g id="D-EgTuC26.TuB27"><circle class="n fP" cx="1602" cy="1168" r="12.5"/><text class="td" x="1595" y="1143">EgTuC26.TuB27</text></g>
<g id="D-EgTuB25"><circle class="n fP" cx="1761" cy="1205" r="9"/><text class="td" x="1756" y="1231">EgTuB25</text></g>
<g id="D-EG1A"><g transform="translate(1018 1255)" stroke-width="22">
<circle class="s G" r="11" pathLength="360" stroke-dasharray="300.5 360"/>
<circle class="s R" r="11" pathLength="360" stroke-dasharray="60.5 360" transform="rotate(300)"/>
<path class="sp" d="M0 0H22"/><path class="sp" d="M0 0H22" transform="rotate(300)"/>
<circle class="o" r="22"/></g>
<text class="td" x="1018" y="1292">EG1A</text></g>
<g id="D-EgCLOM16"><circle class="n fM" cx="1204" cy="1284" r="9"/><text class="td" x="1189" y="1305">EgCLOM16</text></g>
<g id="D-EgTuC22"><circle class="n fP" cx="1698" cy="1313" r="9"/><text class="td" x="1705" y="1337">EgTuC22</text></g>
<g id="D-EG1E"><circle class="n fY" cx="1512" cy="1321" r="9"/><text class="td" x="1514" y="1342">EG1E</text></g>
<g id="D-EG1D"><g transform="translate(1203 1407)" stroke-width="23">
<circle class="s M" r="11.5" pathLength="360" stroke-dasharray="315.5 360" transform="rotate(48)"/>
<circle class="s P" r="11.5" pathLength="360" stroke-dasharray="45.5 360" transform="rotate(3)"/>
<path class="sp" d="M0 0H23" transform="rotate(48)"/><path class="sp" d="M0 0H23" transform="rotate(3)"/>
<circle class="o" r="23"/></g>
<text class="td" x="1200" y="1452">EG1D</text></g>
<g id="D-EgTuP13.TuP17"><circle class="n fP" cx="1407" cy="1442" r="13"/><text class="td" x="1404" y="1472">EgTuP13.TuP17</text></g>

<g id="D-legend">
<rect class="lg" x="1804" y="1232" width="157" height="261"/>
<circle class="lc" cx="1882" cy="1278" r="26"/><circle class="lc" cx="1882" cy="1296" r="8"/>
<text x="1882" y="1280" font-size="6" text-anchor="middle">10 samples</text>
<text x="1882" y="1313" font-size="6" text-anchor="middle">1 sample</text>
<circle class="n fR" cx="1829" cy="1345" r="10"/><text x="1855" y="1350" font-size="15">Coquimbo</text>
<circle class="n fG" cx="1829" cy="1368" r="10"/><text x="1855" y="1373" font-size="15">La Araucanía</text>
<circle class="n fM" cx="1829" cy="1391" r="10"/><text x="1859" y="1396" font-size="15">Magallanes</text>
<circle class="n fY" cx="1829" cy="1414" r="10"/><text x="1855" y="1419" font-size="15">Libia</text>
<circle class="n fP" cx="1829" cy="1438" r="10"/><text x="1855" y="1443" font-size="15">Túnez</text>
<circle class="n fD" cx="1829" cy="1462" r="10"/><text x="1855" y="1467" font-size="15">Kenia</text>
</g>

<!-- ===== Panel E nodes ===== -->
<g id="E-EG01"><g transform="translate(2349 500)" stroke-width="57">
<circle class="s Y" r="28.5" pathLength="360" stroke-dasharray="67.5 360"/>
<circle class="s M" r="28.5" pathLength="360" stroke-dasharray="129.5 360" transform="rotate(67)"/>
<circle class="s G" r="28.5" pathLength="360" stroke-dasharray="120.5 360" transform="rotate(196)"/>
<circle class="s R" r="28.5" pathLength="360" stroke-dasharray="44.5 360" transform="rotate(316)"/>
<path class="sp" d="M0 0H57"/><path class="sp" d="M0 0H57" transform="rotate(67)"/><path class="sp" d="M0 0H57" transform="rotate(196)"/><path class="sp" d="M0 0H57" transform="rotate(316)"/>
<circle class="o" r="57"/></g>
<text class="te" x="2349" y="467">EG01</text></g>
<g id="E-EgAus004"><circle class="n fY" cx="2368" cy="134" r="10"/><text class="te" x="2352" y="114">EgAus004</text></g>
<g id="E-EgAus13"><circle class="n fY" cx="2673" cy="167" r="10"/><text class="te" x="2673" y="146">EgAus13</text></g>
<g id="E-EG3"><circle class="n fY" cx="2475" cy="221" r="13.5"/><text class="te" x="2475" y="198">EG3</text></g>
<g id="E-EgAus003"><circle class="n fY" cx="2270" cy="236" r="10"/><text class="te" x="2259" y="210">EgAus003</text></g>
<g id="E-EgAus001"><circle class="n fY" cx="2112" cy="304" r="10"/><text class="te" x="2097" y="285">EgAus001</text></g>
<g id="E-EG2"><circle class="n fY" cx="2621" cy="318" r="13.5"/><text class="te" x="2632" y="297">EG2</text></g>
<g id="E-EG1E"><circle class="n fY" cx="2089" cy="429" r="10"/><text class="te" x="2079" y="409">EG1E</text></g>
<g id="E-EU178104"><circle class="n fY" cx="2439" cy="424" r="9"/><text class="te st" x="2451" y="434">EU178104</text></g>
<g id="E-EG1A"><g transform="translate(2116 594)" stroke-width="22">
<circle class="s G" r="11" pathLength="360" stroke-dasharray="300.5 360"/>
<circle class="s R" r="11" pathLength="360" stroke-dasharray="60.5 360" transform="rotate(300)"/>
<path class="sp" d="M0 0H22"/><path class="sp" d="M0 0H22" transform="rotate(300)"/>
<circle class="o" r="22"/></g>
<text class="te" x="2103" y="628">EG1A</text></g>
<g id="E-EgCLOM16"><circle class="n fM" cx="2502" cy="600" r="10"/><text class="te" x="2511" y="623">EgCLOM16</text></g>
<g id="E-EG1D"><g transform="translate(2279 742)" stroke-width="24">
<circle class="s M" r="12" pathLength="360" stroke-dasharray="304.5 360" transform="rotate(56)"/>
<circle class="s Y" r="12" pathLength="360" stroke-dasharray="56.5 360"/>
<path class="sp" d="M0 0H24"/><path class="sp" d="M0 0H24" transform="rotate(56)"/>
<circle class="o" r="24"/></g>
<text class="te" x="2276" y="782">EG1D</text></g>

<g id="E-legend">
<rect class="lg" x="2664" y="527" width="160" height="219"/>
<circle class="lc" cx="2744" cy="575" r="28.5"/><circle class="lc" cx="2744" cy="594" r="9.5"/>
<text x="2744" y="577" font-size="7" text-anchor="middle">10 samples</text>
<text x="2744" y="613" font-size="7" text-anchor="middle">1 sample</text>
<circle class="n fR" cx="2691" cy="642" r="10"/><text x="2717" y="647" font-size="15">Coquimbo</text>
<circle class="n fG" cx="2691" cy="665" r="10"/><text x="2717" y="670" font-size="15">La Araucanía</text>
<circle class="n fM" cx="2691" cy="690" r="10"/><text x="2721" y="695" font-size="15">Magallanes</text>
<circle class="n fY" cx="2691" cy="714" r="10"/><text x="2717" y="719" font-size="15">Australia</text>
</g>

<!-- ===== Panel F nodes ===== -->
<g id="F-EG01"><g transform="translate(2276 1177)" stroke-width="69">
<circle class="s G" r="34.5" pathLength="360" stroke-dasharray="113.5 360" transform="rotate(205)"/>
<circle class="s R" r="34.5" pathLength="360" stroke-dasharray="42.5 360" transform="rotate(318)"/>
<circle class="s D" r="34.5" pathLength="360" stroke-dasharray="9 360"/>
<circle class="s P" r="34.5" pathLength="360" stroke-dasharray="54.5 360" transform="rotate(8.5)"/>
<circle class="s Y" r="34.5" pathLength="360" stroke-dasharray="15.5 360" transform="rotate(62.5)"/>
<circle class="s M" r="34.5" pathLength="360" stroke-dasharray="128 360" transform="rotate(77.5)"/>
<path class="sp" d="M0 0H69" transform="rotate(205)"/><path class="sp" d="M0 0H69" transform="rotate(318)"/><path class="sp" d="M0 0H69"/><path class="sp" d="M0 0H69" transform="rotate(8.5)"/><path class="sp" d="M0 0H69" transform="rotate(62.5)"/><path class="sp" d="M0 0H69" transform="rotate(77.5)"/>
<circle class="o" r="69"/></g>
<text class="tf" x="2271" y="1140">EG01</text></g>
<g id="F-EG1A"><g transform="translate(1993 852)" stroke-width="26.5">
<circle class="s G" r="13.25" pathLength="360" stroke-dasharray="307.5 360"/>
<circle class="s R" r="13.25" pathLength="360" stroke-dasharray="53.5 360" transform="rotate(307)"/>
<path class="sp" d="M0 0H26.5"/><path class="sp" d="M0 0H26.5" transform="rotate(307)"/>
<circle class="o" r="26.5"/></g>
<text class="tf" x="1988" y="810">EG1A</text></g>
<g id="F-EgCLOM16"><circle class="n fM" cx="2357" cy="923" r="10.5"/><text class="tf" x="2345" y="897">EgCLOM16</text></g>
<g id="F-EgIP10"><circle class="n fP" cx="2547" cy="1027" r="12"/><text class="tf" x="2549" y="1000">EgIP10</text></g>
<g id="F-EG1E"><circle class="n fP" cx="2019" cy="1091" r="11"/><text class="tf" x="2011" y="1064">EG1E</text></g>
<g id="F-EG1D"><circle class="n fM" cx="2038" cy="1362" r="27"/><text class="tf" x="2032" y="1405">EG1D</text></g>
<g id="F-EU178104"><g transform="translate(2459 1385)" stroke-width="24">
<circle class="s P" r="12" pathLength="360" stroke-dasharray="290.5 360"/>
<circle class="s Y" r="12" pathLength="360" stroke-dasharray="70.5 360" transform="rotate(290)"/>
<path class="sp" d="M0 0H24"/><path class="sp" d="M0 0H24" transform="rotate(290)"/>
<circle class="o" r="24"/></g>
<text class="tf" x="2462" y="1429">EU178104</text></g>

<g id="F-legend">
<rect class="lg" x="2609" y="1142" width="210" height="318"/>
<circle class="lc" cx="2714" cy="1198" r="34"/><circle class="lc" cx="2714" cy="1221" r="11"/>
<text x="2714" y="1201" font-size="8.5" text-anchor="middle">10 samples</text>
<text x="2714" y="1244" font-size="8.5" text-anchor="middle">1 sample</text>
<circle class="n fR" cx="2640" cy="1278" r="11"/><text x="2671" y="1284" font-size="17.5">Coquimbo</text>
<circle class="n fG" cx="2640" cy="1307" r="11"/><text x="2671" y="1313" font-size="17.5">La Araucanía</text>
<circle class="n fM" cx="2640" cy="1336" r="11"/><text x="2676" y="1342" font-size="17.5">Magallanes</text>
<circle class="n fY" cx="2640" cy="1365" r="11"/><text x="2671" y="1371" font-size="17.5">Paquistán</text>
<circle class="n fP" cx="2640" cy="1393" r="11"/><text x="2671" y="1399" font-size="17.5">Irán</text>
<circle class="n fD" cx="2640" cy="1422" r="11"/><text x="2676" y="1428" font-size="17.5">Arabia Saudita</text>
</g>

<!-- ===== Table G ===== -->
<g id="table-G">
<path class="hl" d="M229 1557H2398M592 1612H2398M592 1667H2398M229 2049H2398"/>
<g class="tab bd">
<text x="242" y="1594">Population</text>
<text x="914" y="1594">Diversity</text>
<text x="1726" y="1594">Neutrality</text>
</g>
<g class="tab">
<text x="603" y="1649">N</text><text x="745" y="1649">K</text><text x="879" y="1649">S</text><text x="1080" y="1649">π</text>
<text x="1409" y="1649">Tajima’s D</text><text x="1745" y="1649">p</text>
<text x="1996" y="1649">Fu's F<tspan font-size="27" dy="8">S</tspan></text><text x="2243" y="1649">p</text>
</g>
<g class="tab bd">
<text x="242" y="1703">Latin America</text>
<text x="242" y="1767">Europe</text>
<text x="242" y="1831">Asia</text>
<text x="242" y="1894">Middle East</text>
<text x="242" y="1959">Africa</text>
<text x="242" y="2023">Australia</text>
</g>
<g class="tab">
<text x="606" y="1703">151</text><text x="745" y="1703">19</text><text x="879" y="1703">34</text><text x="1077" y="1703">0.00409</text><text x="1409" y="1703">–2.39076**</text><text x="1745" y="1703">0.000</text><text x="1996" y="1703">–13.852**</text><text x="2243" y="1703">0.000</text>
<text x="606" y="1767">131</text><text x="745" y="1767">34</text><text x="879" y="1767">43</text><text x="1077" y="1767">0.00405</text><text x="1409" y="1767">–1.74014**</text><text x="1745" y="1767">0.008</text><text x="1996" y="1767">–16.347**</text><text x="2243" y="1767">0.011</text>
<text x="606" y="1831">141</text><text x="745" y="1831">20</text><text x="879" y="1831">30</text><text x="1077" y="1831">0.00426</text><text x="1409" y="1831">–2.42296**</text><text x="1745" y="1831">0.001</text><text x="1996" y="1831">–23.916**</text><text x="2243" y="1831">0.000</text>
<text x="606" y="1894">62</text><text x="745" y="1894">7</text><text x="879" y="1894">6</text><text x="1077" y="1894">0.00215</text><text x="1409" y="1894">–1.28943</text><text x="1745" y="1894">0.083</text><text x="1996" y="1894">–3.600**</text><text x="2243" y="1894">0.015</text>
<text x="606" y="1959">84</text><text x="745" y="1959">14</text><text x="879" y="1959">13</text><text x="1077" y="1959">0.00237</text><text x="1409" y="1959">–2.05644**</text><text x="1745" y="1959">0.000</text><text x="1996" y="1959">–16.622**</text><text x="2243" y="1959">0.000</text>
<text x="606" y="2023">65</text><text x="745" y="2023">11</text><text x="879" y="2023">14</text><text x="1077" y="2023">0.00390</text><text x="1409" y="2023">–1.82755**</text><text x="1745" y="2023">0.001</text><text x="1996" y="2023">–6.627**</text><text x="2243" y="2023">0.001</text>
</g>
<text class="tab" x="67" y="2123" font-size="37" textLength="2525">N: number of simples, K: number of haplotypes, S: number of segregating sites, π: nucleotide diversity, Fu's FS: population fixation index,  **p&lt;0.05</text>
</g>
</svg>
